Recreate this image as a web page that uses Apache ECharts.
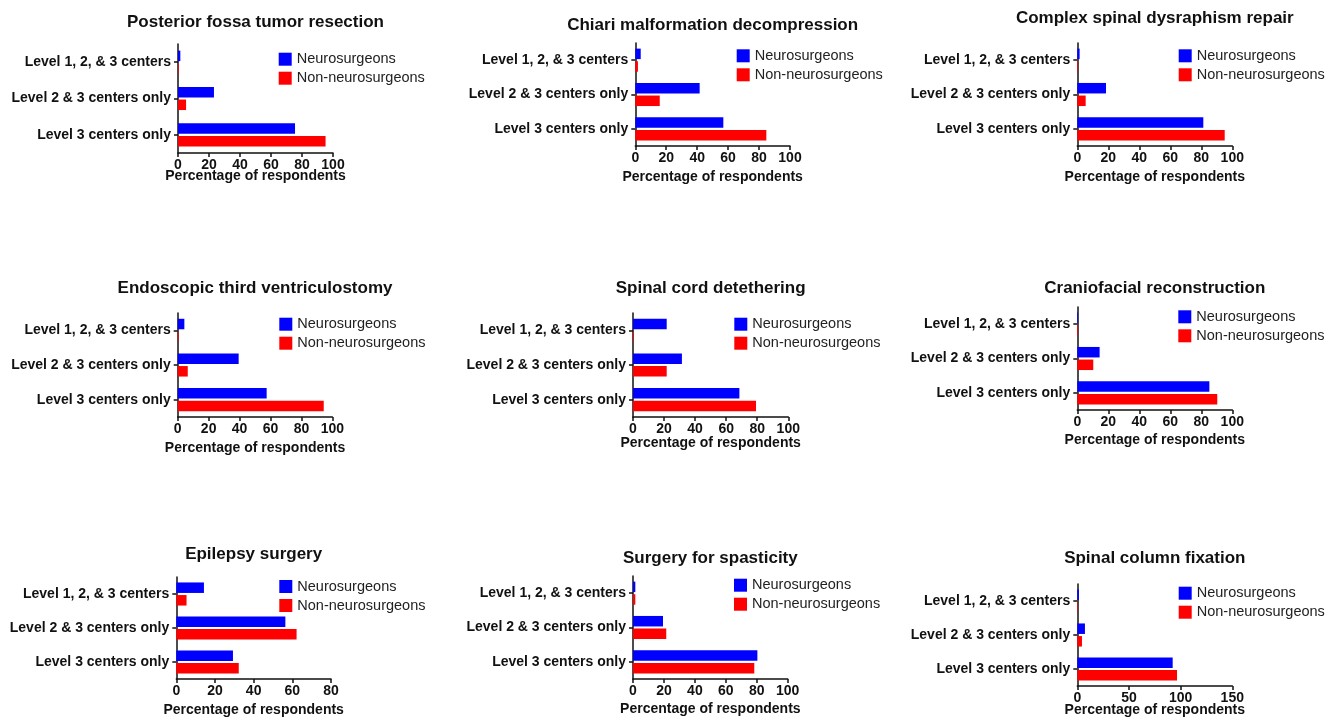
<!DOCTYPE html>
<html>
<head>
<meta charset="utf-8">
<script src="https://cdn.jsdelivr.net/npm/echarts@6/dist/echarts.min.js"></script>
<style>
html,body{margin:0;padding:0;background:#fff;}
#chart{width:1338px;height:718px;}
</style>
</head>
<body>
<div id="chart"></div>
<script>
// ---- data ----
const categories = ['Level 1, 2, & 3 centers', 'Level 2 & 3 centers only', 'Level 3 centers only'];
const seriesNames = ['Neurosurgeons', 'Non-neurosurgeons'];
const titles = [
  'Posterior fossa tumor resection', 'Chiari malformation decompression', 'Complex spinal dysraphism repair',
  'Endoscopic third ventriculostomy', 'Spinal cord detethering', 'Craniofacial reconstruction',
  'Epilepsy surgery', 'Surgery for spasticity', 'Spinal column fixation'
];
const neuroValues = [
  [1.5, 23.2, 75.5],
  [3.5, 41.6, 56.9],
  [1.5, 18.5, 81.3],
  [4.3, 39.4, 57.5],
  [21.7, 31.5, 68.5],
  [0.5, 14.4, 85.2],
  [14.3, 56.4, 29.3],
  [1.5, 19.4, 80.4],
  [1.6, 7.4, 92.3]
];
const nonNeuroValues = [
  [0.5, 5.2, 95.2],
  [1.7, 15.8, 84.7],
  [0.5, 5.4, 95.1],
  [0.5, 6.5, 94.4],
  [0.5, 21.7, 79.2],
  [0.5, 10.3, 90.3],
  [5.3, 62.2, 32.3],
  [1.5, 21.5, 78.4],
  [0.5, 4.5, 96.5]
];
const xMax = [100, 100, 100, 100, 100, 100, 80, 100, 150];
const xInterval = [20, 20, 20, 20, 20, 20, 20, 20, 50];
const xAxisName = 'Percentage of respondents';

// ---- layout (pixels) ----
const gridLeft   = [178, 635.3, 1077.3, 177.7, 633, 1077.3, 176.3, 633, 1077.3];
const gridWidth  = [155, 154.7, 155, 154.7, 155.3, 155, 154.7, 154.7, 155];
const gridTop    = [44, 43, 43, 313, 313, 307, 577, 576, 584];
const gridBottom = [153, 146, 146, 417, 417, 410, 679, 679, 687];
const titleY     = [22, 25, 18, 288, 288, 288, 554, 558, 558];
const nameGap    = [16, 24, 24, 24, 19, 23, 24, 23, 17];
const legendX    = [278.7, 736.7, 1178.7, 279.3, 734.3, 1178.3, 279.3, 734, 1178.7];
const legendY    = [51.7, 48.3, 48.3, 316.7, 316.7, 309.3, 579, 577.7, 585.7];

const FONT = '"Liberation Sans", Arial, Helvetica, sans-serif';
const colors = ['#0000FF', '#FF0000'];

const option = {
  backgroundColor: '#ffffff',
  animation: false,
  title: [], grid: [], xAxis: [], yAxis: [], legend: [], series: []
};

for (let i = 0; i < 9; i++) {
  const cx = gridLeft[i] + gridWidth[i] / 2;
  option.title.push({
    text: titles[i],
    left: cx, top: titleY[i], padding: 0,
    textAlign: 'center', textVerticalAlign: 'middle',
    textStyle: { fontFamily: FONT, fontSize: 17, fontWeight: 'bold', color: '#111' }
  });
  option.grid.push({
    left: gridLeft[i], top: gridTop[i],
    width: gridWidth[i], height: gridBottom[i] - gridTop[i],
    containLabel: false
  });
  option.xAxis.push({
    gridIndex: i, type: 'value', min: 0, max: xMax[i], interval: xInterval[i],
    name: xAxisName, nameLocation: 'middle', nameGap: nameGap[i],
    nameMoveOverlap: false,
    nameTextStyle: { fontFamily: FONT, fontSize: 14, fontWeight: 'bold', color: '#111' },
    axisLine: { show: true, lineStyle: { color: '#111', width: 1.5 } },
    axisTick: { show: true, length: 4, lineStyle: { color: '#111', width: 1.5 } },
    axisLabel: { margin: 5, fontFamily: FONT, fontSize: 14, fontWeight: 'bold', color: '#111' },
    splitLine: { show: false }
  });
  option.yAxis.push({
    gridIndex: i, type: 'category', data: categories, inverse: true,
    axisLine: { show: true, lineStyle: { color: '#111', width: 1.5 } },
    axisTick: { show: true, alignWithLabel: true, length: 4, lineStyle: { color: '#111', width: 1.5 } },
    axisLabel: { margin: 7, fontFamily: FONT, fontSize: 14, fontWeight: 'bold', color: '#111' }
  });
  option.legend.push({
    data: seriesNames, orient: 'vertical',
    left: legendX[i], top: legendY[i],
    itemWidth: 13, itemHeight: 13, itemGap: 4, padding: 0,
    icon: 'rect',
    textStyle: { fontFamily: FONT, fontSize: 14.5, color: '#222' }
  });
  const vals = [neuroValues[i], nonNeuroValues[i]];
  for (let s = 0; s < 2; s++) {
    option.series.push({
      type: 'bar', name: seriesNames[s],
      xAxisIndex: i, yAxisIndex: i,
      data: vals[s], barWidth: 10.5, barGap: '20%',
      itemStyle: { color: colors[s] }
    });
  }
}

const chart = echarts.init(document.getElementById('chart'), null, { renderer: 'canvas' });
chart.setOption(option);
</script>
</body>
</html>
